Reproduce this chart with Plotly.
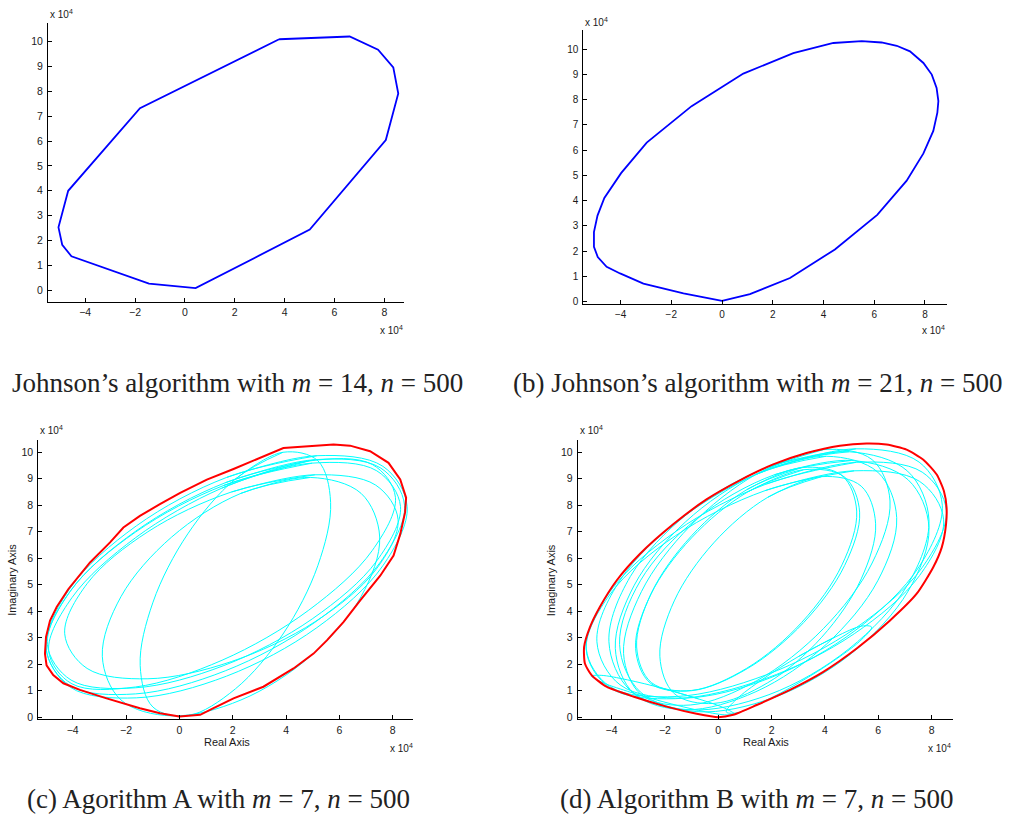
import plotly.graph_objects as go

W, H = 1012, 821

# ---------------- data (units of 1e4) ----------------
# (a) Johnson m=14
A_X = [3.78, 6.61, 7.75, 8.36, 8.56, 8.06, 5.01, 0.43, -1.44, -4.55, -4.92, -5.07, -4.68, -1.80, 3.78]
A_Y = [10.09, 10.20, 9.67, 8.96, 7.91, 6.04, 2.44, 0.09, 0.27, 1.37, 1.83, 2.53, 4.00, 7.32, 10.09]

# (b) Johnson m=21
B_X = [0.0, 1.10, 2.68, 4.45, 6.12, 7.28, 7.94, 8.33, 8.49, 8.53, 8.46, 8.27, 7.94, 7.41, 6.89, 6.29, 5.51,
       4.39, 2.81, 0.84, -1.20, -2.97, -3.98, -4.64, -4.91, -5.05, -5.05, -4.90, -4.55, -4.02, -3.10, -1.52, 0.0]
B_Y = [0.03, 0.30, 0.94, 2.07, 3.44, 4.79, 5.87, 6.76, 7.48, 7.94, 8.46, 8.99, 9.45, 9.91, 10.13, 10.26, 10.31,
       10.24, 9.84, 9.03, 7.74, 6.30, 5.09, 4.11, 3.41, 2.76, 2.17, 1.77, 1.38, 1.12, 0.72, 0.33, 0.03]

# (c) Algorithm A, boundary
C_RED_X = [0, 0.78, 1.28, 2.03, 3.15, 4.28, 5.03, 5.53, 6.15, 6.78, 7.53, 8.03, 8.28, 8.46, 8.5, 8.28, 7.84, 7.15,
           6.4, 5.78, 3.9, 3.03, 2.03, 1.03, 0.03, -0.73, -1.48, -2.1, -2.6, -3.35, -4.16, -4.6, -4.85, -5.0,
           -5.04, -4.98, -4.73, -4.35, -3.73, -2.73, -1.48, -0.73, 0]
C_RED_Y = [0.03, 0.09, 0.34, 0.71, 1.15, 1.84, 2.4, 2.9, 3.59, 4.41, 5.34, 6.1, 6.91, 7.72, 8.29, 8.97, 9.6, 10.04,
           10.25, 10.29, 10.16, 9.79, 9.37, 8.97, 8.47, 8.04, 7.6, 7.16, 6.6, 5.84, 4.84, 4.16, 3.65, 3.03,
           2.4, 1.96, 1.59, 1.28, 1.03, 0.71, 0.34, 0.15, 0.03]

# (c) component curves (12 points each, read around each loop)
C_E1_X = [-5.0, -4.09, -1.615, 1.77, 5.155, 7.63, 8.54, 7.63, 5.155, 1.77, -1.615, -4.09]
C_E1_Y = [2.65, 4.88, 7.22, 9.05, 9.87, 9.47, 7.95, 5.72, 3.38, 1.55, 0.73, 1.13]
C_E2_X = [-5.0, -4.10, -1.64, 1.72, 5.08, 7.54, 8.44, 7.54, 5.08, 1.72, -1.64, -4.10]
C_E2_Y = [2.60, 4.74, 7.02, 8.85, 9.72, 9.41, 8.00, 5.86, 3.58, 1.75, 0.88, 1.19]
C_E3_X = [-4.95, -4.06, -1.64, 1.67, 4.98, 7.40, 8.29, 7.40, 4.98, 1.67, -1.64, -4.06]
C_E3_Y = [2.75, 4.80, 6.99, 8.75, 9.59, 9.30, 7.95, 5.90, 3.71, 1.95, 1.11, 1.40]
C_E4_X = [-4.9, -4.03, -1.65, 1.6, 4.85, 7.23, 8.1, 7.23, 4.85, 1.6, -1.65, -4.03]
C_E4_Y = [2.5, 4.51, 6.77, 8.65, 9.67, 9.54, 8.3, 6.29, 4.04, 2.15, 1.14, 1.26]
C_E5_X = [-4.3, -3.46, -1.18, 1.95, 5.08, 7.36, 8.2, 7.36, 5.08, 1.95, -1.18, -3.46]
C_E5_Y = [3.15, 5.04, 7.00, 8.5, 9.15, 8.76, 7.45, 5.56, 3.60, 2.1, 1.45, 1.84]
C_E6_X = [-1.47, -0.99, 0.315, 2.1, 3.885, 5.19, 5.67, 5.19, 3.885, 2.1, 0.315, -0.99]
C_E6_Y = [1.95, 4.34, 6.92, 8.99, 10.0, 9.68, 8.11, 5.72, 3.14, 1.07, 0.06, 0.38]
C_E7_X = [-2.89, -2.19, -0.29, 2.31, 4.91, 6.81, 7.51, 6.81, 4.91, 2.31, -0.29, -2.19]
C_E7_Y = [2.30, 4.55, 6.80, 8.45, 9.05, 8.45, 6.80, 4.55, 2.30, 0.65, 0.05, 0.65]

# (d) Algorithm B, boundary
D_RED_X = [0, 0.56, 1.44, 2.69, 3.94, 5.19, 6.44, 7.44, 8.06, 8.38, 8.54, 8.56, 8.46, 8.19, 7.69, 7.06, 6.31,
           5.56, 4.56, 3.31, 2.06, 0.81, -0.44, -1.69, -2.94, -3.81, -4.44, -4.81, -5.03, -5.0, -4.75, -4.19,
           -3.19, -1.94, -0.81, 0]
D_RED_Y = [0, 0.09, 0.46, 1.03, 1.71, 2.59, 3.65, 4.66, 5.66, 6.41, 7.28, 7.91, 8.54, 9.16, 9.72, 10.1, 10.29,
           10.33, 10.25, 9.97, 9.54, 8.94, 8.22, 7.28, 6.16, 5.16, 4.16, 3.4, 2.65, 2.03, 1.59, 1.15,
           0.78, 0.4, 0.13, 0]

D_E1_X = [-4.95, -4.05, -1.575, 1.8, 5.175, 7.646, 8.55, 7.646, 5.175, 1.8, -1.575, -4.05]
D_E1_Y = [2.6, 4.75, 7.02, 8.8, 9.62, 9.25, 7.8, 5.65, 3.38, 1.6, 0.78, 1.15]
D_E2_X = [-4.95, -4.05, -1.6, 1.75, 5.1, 7.55, 8.45, 7.55, 5.1, 1.75, -1.6, -4.05]
D_E2_Y = [2.55, 4.65, 6.85, 8.55, 9.30, 8.90, 7.45, 5.35, 3.15, 1.45, 0.70, 1.10]
D_E3_X = [-4.55, -3.68, -1.31, 1.925, 5.16, 7.53, 8.40, 7.53, 5.16, 1.925, -1.31, -3.68]
D_E3_Y = [2.85, 5.17, 7.56, 9.375, 10.13, 9.63, 8.0, 5.68, 3.29, 1.475, 0.72, 1.22]
D_E5_X = [-3.86, -3.15, -1.22, 1.415, 4.05, 5.98, 6.69, 5.98, 4.05, 1.415, -1.22, -3.15]
D_E5_Y = [2.60, 4.98, 7.38, 9.165, 9.85, 9.25, 7.53, 5.15, 2.75, 0.965, 0.28, 0.88]
D_E6_X = [-3.55, -2.88, -1.05, 1.445, 3.94, 5.77, 6.44, 5.77, 3.94, 1.445, -1.05, -2.88]
D_E6_Y = [2.40, 4.74, 7.22, 9.18, 10.10, 9.72, 8.16, 5.82, 3.34, 1.38, 0.46, 0.84]
D_E7_X = [-3.06, -2.51, -1.0, 1.065, 3.13, 4.64, 5.19, 4.64, 3.13, 1.065, -1.0, -2.51]
D_E7_Y = [2.65, 4.68, 6.85, 8.585, 9.42, 9.12, 7.78, 5.75, 3.58, 1.845, 1.01, 1.31]
D_E8_X = [-3.10, -2.54, -1.0, 1.1, 3.2, 4.74, 5.30, 4.74, 3.2, 1.1, -1.0, -2.54]
D_E8_Y = [2.60, 4.61, 6.77, 8.50, 9.34, 9.06, 7.74, 5.73, 3.57, 1.84, 1.0, 1.28]
D_E9_X = [-2.19, -1.65, -0.17, 1.855, 3.88, 5.36, 5.90, 5.36, 3.88, 1.855, -0.17, -1.65]
D_E9_Y = [2.30, 4.39, 6.58, 8.30, 9.08, 8.72, 7.30, 5.22, 3.02, 1.30, 0.52, 0.89]
D_E10_X = [-4.1, -3.296, -1.1, 1.9, 4.9, 7.096, 7.9, 7.096, 4.9, 1.9, -1.1, -3.296]
D_E10_Y = [2.85, 5.31, 7.72, 9.45, 10.02, 9.29, 7.45, 4.99, 2.58, 0.85, 0.28, 1.01]
D_E11_X = [-3.7, -2.92, -0.8, 2.1, 5.0, 7.12, 7.9, 7.12, 5.0, 2.1, -0.8, -2.92]
D_E11_Y = [2.75, 5.15, 7.49, 9.15, 9.69, 8.96, 7.15, 4.76, 2.41, 0.75, 0.21, 0.95]
D_E12_X = [-4.75, -4.39, -3.41, -2.075, -0.74, 0.24, 0.60, 0.24, -0.74, -2.075, -3.41, -4.39]
D_E12_Y = [1.55, 1.58, 1.41, 1.085, 0.69, 0.34, 0.12, 0.09, 0.26, 0.585, 0.98, 1.33]
D_E13_X = [0.30, 0.665, 1.66, 3.025, 4.39, 5.385, 5.75, 5.385, 4.39, 3.025, 1.66, 0.665]
D_E13_Y = [0.2, 0.66, 1.43, 2.3, 3.03, 3.44, 3.4, 2.94, 2.17, 1.3, 0.57, 0.16]

X_TICKS = [-4, -2, 0, 2, 4, 6, 8]
Y_TICKS = [0, 1, 2, 3, 4, 5, 6, 7, 8, 9, 10]

CAPTIONS = [
    "Johnson’s algorithm with <i>m</i> = 14, <i>n</i> = 500",
    "(b) Johnson’s algorithm with <i>m</i> = 21, <i>n</i> = 500",
    "(c) Agorithm A with <i>m</i> = 7, <i>n</i> = 500",
    "(d) Algorithm B with <i>m</i> = 7, <i>n</i> = 500",
]

C_CURVES = [(C_E1_X, C_E1_Y), (C_E2_X, C_E2_Y), (C_E3_X, C_E3_Y), (C_E4_X, C_E4_Y),
            (C_E5_X, C_E5_Y), (C_E6_X, C_E6_Y), (C_E7_X, C_E7_Y)]
D_CURVES = [(D_E1_X, D_E1_Y), (D_E2_X, D_E2_Y), (D_E3_X, D_E3_Y),
            (D_E5_X, D_E5_Y), (D_E6_X, D_E6_Y), (D_E7_X, D_E7_Y), (D_E8_X, D_E8_Y),
            (D_E9_X, D_E9_Y), (D_E10_X, D_E10_Y), (D_E11_X, D_E11_Y), (D_E12_X, D_E12_Y),
            (D_E13_X, D_E13_Y)]

# ---------------- layout helpers ----------------
def fx(p):
    return p / W

def fy(p):
    return 1 - p / H

def loop(xs, ys):
    # start at a flat part of the loop and wrap around so the spline closes smoothly
    n = len(xs)
    idx = [(3 + k) % n for k in range(n + 2)]
    return [xs[i] for i in idx], [ys[i] for i in idx]

fig = go.Figure()

panels = {
    # name: (x px left, right, y px top, bottom, xrange, yrange, tick font)
    "1": (48, 404, 22.7, 303, [-5.49, 8.79], [-0.45, 10.76], 10.5),
    "2": (583.3, 947, 30, 305, [-5.47, 8.87], [-0.07, 10.76], 10),
    "3": (38.3, 413.3, 441.7, 722.7, [-5.29, 8.77], [-0.075, 10.48], 10.5),
    "4": (577.7, 952.7, 441.7, 722.7, [-5.27, 8.79], [-0.075, 10.48], 10.5),
}

layout_axes = {}
for k, (l, r, t, b, xr, yr, fs) in panels.items():
    xa = "xaxis" if k == "1" else "xaxis" + k
    ya = "yaxis" if k == "1" else "yaxis" + k
    common = dict(showgrid=False, zeroline=False, showline=True, linecolor="black", linewidth=1,
                  ticks="inside", ticklen=4, tickcolor="black", tickwidth=1, mirror=False,
                  tickfont=dict(family="Liberation Sans, Arial", size=fs, color="#1a1a1a"))
    layout_axes[xa] = dict(domain=[fx(l), fx(r)], range=xr, tickvals=X_TICKS,
                           anchor="y" if k == "1" else "y" + k, ticklabelstandoff=1, **common)
    layout_axes[ya] = dict(domain=[fy(b), fy(t)], range=yr, tickvals=Y_TICKS,
                           anchor="x" if k == "1" else "x" + k, ticklabelstandoff=2, **common)

# panel (a)
fig.add_trace(go.Scatter(x=A_X, y=A_Y, mode="lines", line=dict(color="#0000ff", width=1.8),
                         xaxis="x", yaxis="y", hoverinfo="skip"))
# panel (b)
fig.add_trace(go.Scatter(x=B_X, y=B_Y, mode="lines", line=dict(color="#0000ff", width=1.8),
                         xaxis="x2", yaxis="y2", hoverinfo="skip"))
# panel (c)
for xs, ys in C_CURVES:
    lx, ly = loop(xs, ys)
    fig.add_trace(go.Scatter(x=lx, y=ly, mode="lines",
                             line=dict(color="#00ffff", width=1, shape="spline", smoothing=1.0),
                             xaxis="x3", yaxis="y3", hoverinfo="skip"))
fig.add_trace(go.Scatter(x=C_RED_X, y=C_RED_Y, mode="lines", line=dict(color="#ff0000", width=2),
                         xaxis="x3", yaxis="y3", hoverinfo="skip"))
# panel (d)
for xs, ys in D_CURVES:
    lx, ly = loop(xs, ys)
    fig.add_trace(go.Scatter(x=lx, y=ly, mode="lines",
                             line=dict(color="#00ffff", width=1, shape="spline", smoothing=1.0),
                             xaxis="x4", yaxis="y4", hoverinfo="skip"))
fig.add_trace(go.Scatter(x=D_RED_X, y=D_RED_Y, mode="lines",
                         line=dict(color="#ff0000", width=2, shape="spline", smoothing=0.6),
                         xaxis="x4", yaxis="y4", hoverinfo="skip"))

annos = []
small = dict(family="Liberation Sans, Arial", size=10, color="#1a1a1a")
exp_label = "x 10<sup>4</sup>"
for (xl, yt, xr, yb) in [(48, 14, 405, 332), (583, 22, 947, 332), (38, 432, 415, 752), (578, 432, 953, 752)]:
    annos.append(dict(x=fx(xl), y=fy(yt), xref="paper", yref="paper", text=exp_label, showarrow=False,
                      xanchor="left", yanchor="middle", font=small))
    annos.append(dict(x=fx(xr), y=fy(yb), xref="paper", yref="paper", text=exp_label, showarrow=False,
                      xanchor="right", yanchor="middle", font=small))

title_font = dict(family="Liberation Sans, Arial", size=11, color="#1a1a1a")
for (rx, ix) in [(226.7, 11.7), (765.7, 551)]:
    annos.append(dict(x=fx(rx), y=fy(746), xref="paper", yref="paper", text="Real Axis", showarrow=False,
                      xanchor="center", yanchor="middle", font=title_font))
    annos.append(dict(x=fx(ix), y=fy(583), xref="paper", yref="paper", text="Imaginary Axis", showarrow=False,
                      xanchor="center", yanchor="middle", textangle=-90, font=title_font))

cap_font = dict(family="Liberation Serif, Times New Roman, serif", size=27, color="#222222")
for text, (cx, cy) in zip(CAPTIONS, [(237, 385), (757, 385), (218, 803), (756.5, 803)]):
    annos.append(dict(x=fx(cx), y=fy(cy), xref="paper", yref="paper", text=text, showarrow=False,
                      xanchor="center", yanchor="middle", borderpad=0, font=cap_font))

fig.update_layout(width=W, height=H, margin=dict(l=0, r=0, t=0, b=0), showlegend=False,
                  paper_bgcolor="white", plot_bgcolor="white", annotations=annos, **layout_axes)

fig.write_html("out.html", config={"displayModeBar": False},
               post_script="document.body.style.margin='0px';document.body.style.overflow='hidden';")
